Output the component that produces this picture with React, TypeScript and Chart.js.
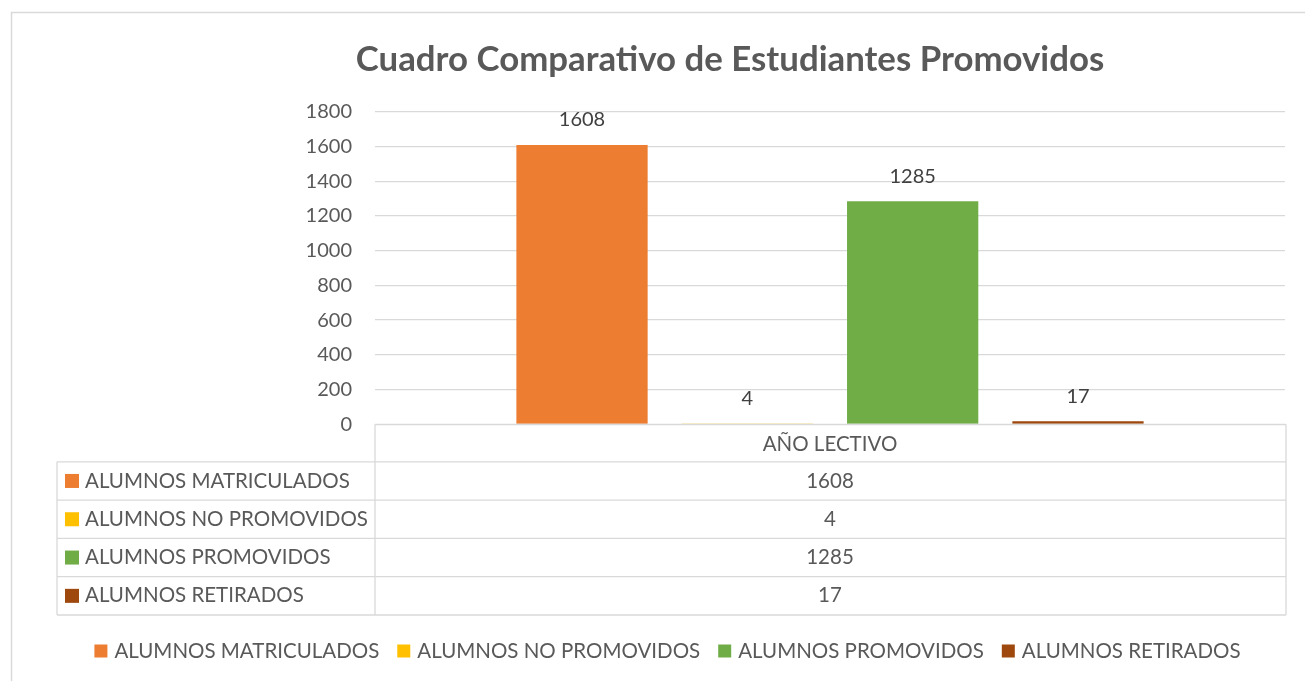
import React, { useEffect, useRef } from "react";
import { Chart, registerables } from "chart.js";

Chart.register(...registerables);

// ---- data ----
const categories = ["AÑO LECTIVO"];
const seriesNames = [
  "ALUMNOS MATRICULADOS",
  "ALUMNOS NO PROMOVIDOS",
  "ALUMNOS PROMOVIDOS",
  "ALUMNOS RETIRADOS",
];
const matriculados = [1608];
const noPromovidos = [4];
const promovidos = [1285];
const retirados = [17];
const yTickValues = [0, 200, 400, 600, 800, 1000, 1200, 1400, 1600, 1800];
const titleText = "Cuadro Comparativo de Estudiantes Promovidos";

const seriesValues = [matriculados, noPromovidos, promovidos, retirados];
const seriesColors = ["#ED7D31", "#FFC000", "#70AD47", "#9E480E"];

const FONT = "Lato, 'Open Sans', sans-serif";
const GRID = "#d9d9d9";
const TEXT = "#595959";

const extras = {
  id: "excelExtras",
  beforeDraw(chart: any) {
    const ctx = chart.ctx;
    ctx.save();
    ctx.fillStyle = "#ffffff";
    ctx.fillRect(0, 0, chart.width, chart.height);
    ctx.strokeStyle = GRID;
    ctx.lineWidth = 1.5;
    ctx.strokeRect(11.5, 12.5, chart.width + 20, chart.height + 20);
    ctx.restore();
  },
  afterDatasetsDraw(chart: any) {
    const ctx = chart.ctx;
    const area = chart.chartArea;
    ctx.save();

    // title
    ctx.fillStyle = TEXT;
    ctx.font = `bold 34.8px ${FONT}`;
    ctx.textAlign = "center";
    ctx.textBaseline = "middle";
    ctx.fillText(titleText, 730, 60);

    // data labels
    ctx.font = `20px ${FONT}`;
    ctx.fillStyle = "#404040";
    chart.data.datasets.forEach((ds: any, i: number) => {
      const meta = chart.getDatasetMeta(i);
      meta.data.forEach((bar: any, j: number) => {
        ctx.fillText(String(ds.data[j]), bar.x, bar.y - 25);
      });
    });

    // data table
    const xScale = chart.scales.x;
    const tableLeft = 57;
    const colLeft = area.left;
    const colRight = area.right + 1;
    const top = area.bottom;
    const headerBottom = top + 37.5;
    const rowH = 38.3;
    const nRows = seriesNames.length;
    const bottom = headerBottom + rowH * nRows;

    ctx.strokeStyle = GRID;
    ctx.lineWidth = 1.3;
    ctx.beginPath();
    ctx.moveTo(colLeft, top);
    ctx.lineTo(colRight, top);
    for (let r = 0; r <= nRows; r++) {
      const y = headerBottom + rowH * r;
      ctx.moveTo(tableLeft, y);
      ctx.lineTo(colRight, y);
    }
    ctx.moveTo(tableLeft, headerBottom);
    ctx.lineTo(tableLeft, bottom);
    ctx.moveTo(colLeft, top);
    ctx.lineTo(colLeft, bottom);
    ctx.moveTo(colRight, top);
    ctx.lineTo(colRight, bottom);
    ctx.stroke();

    ctx.fillStyle = TEXT;
    ctx.font = `20.5px ${FONT}`;
    ctx.textBaseline = "middle";
    ctx.textAlign = "center";
    categories.forEach((c, j) => {
      const cx = xScale.getPixelForValue(j);
      ctx.fillText(c, cx, (top + headerBottom) / 2 + 1);
    });
    seriesNames.forEach((name, r) => {
      const cy = headerBottom + rowH * r + rowH / 2;
      ctx.fillStyle = seriesColors[r];
      ctx.fillRect(65, cy - 7, 14, 14);
      ctx.fillStyle = TEXT;
      ctx.textAlign = "left";
      ctx.fillText(name, 85, cy);
      ctx.textAlign = "center";
      categories.forEach((c, j) => {
        const cx = xScale.getPixelForValue(j);
        ctx.fillText(String(seriesValues[r][j]), cx, cy);
      });
    });

    // bottom legend
    const legendY = 651;
    const sq = 13;
    const gapSq = 7;
    const gapItem = 18;
    const widths = seriesNames.map((n) => ctx.measureText(n).width);
    const total =
      widths.reduce((a, b) => a + b, 0) +
      seriesNames.length * (sq + gapSq) +
      (seriesNames.length - 1) * gapItem;
    let x = 667.5 - total / 2;
    ctx.textAlign = "left";
    seriesNames.forEach((n, i) => {
      ctx.fillStyle = seriesColors[i];
      ctx.fillRect(x, legendY - sq / 2, sq, sq);
      x += sq + gapSq;
      ctx.fillStyle = TEXT;
      ctx.fillText(n, x, legendY);
      x += widths[i] + gapItem;
    });

    ctx.restore();
  },
};

export default function App() {
  const ref = useRef<HTMLCanvasElement>(null);
  useEffect(() => {
    if (!ref.current) return;
    const chart = new Chart(ref.current, {
      type: "bar",
      data: {
        labels: categories,
        datasets: seriesNames.map((n, i) => ({
          label: n,
          data: seriesValues[i],
          backgroundColor: seriesColors[i],
          borderWidth: 0,
          categoryPercentage: 0.7267,
          barPercentage: 0.794,
        })),
      },
      options: {
        animation: false,
        responsive: false,
        layout: { padding: { left: 0, right: 20, top: 111.7, bottom: 256.7 } },
        plugins: {
          legend: { display: false },
          title: { display: false },
          tooltip: { enabled: false },
        },
        scales: {
          x: { display: false, offset: true },
          y: {
            min: 0,
            max: 1800,
            afterBuildTicks: (s: any) => {
              s.ticks = yTickValues.map((v) => ({ value: v }));
            },
            afterFit: (s: any) => {
              s.width = 375;
            },
            border: { display: false },
            grid: { color: GRID, lineWidth: 1.3, drawTicks: false },
            ticks: {
              padding: 23,
              color: TEXT,
              font: { family: FONT, size: 20 },
              callback: (v: any) => String(v),
            },
          },
        },
      },
      plugins: [extras],
    });
    return () => chart.destroy();
  }, []);
  return (
    <div style={{ position: "absolute", left: 0, top: 0, width: 1305, height: 681 }}>
      <canvas ref={ref} width={1305} height={681} />
    </div>
  );
}
